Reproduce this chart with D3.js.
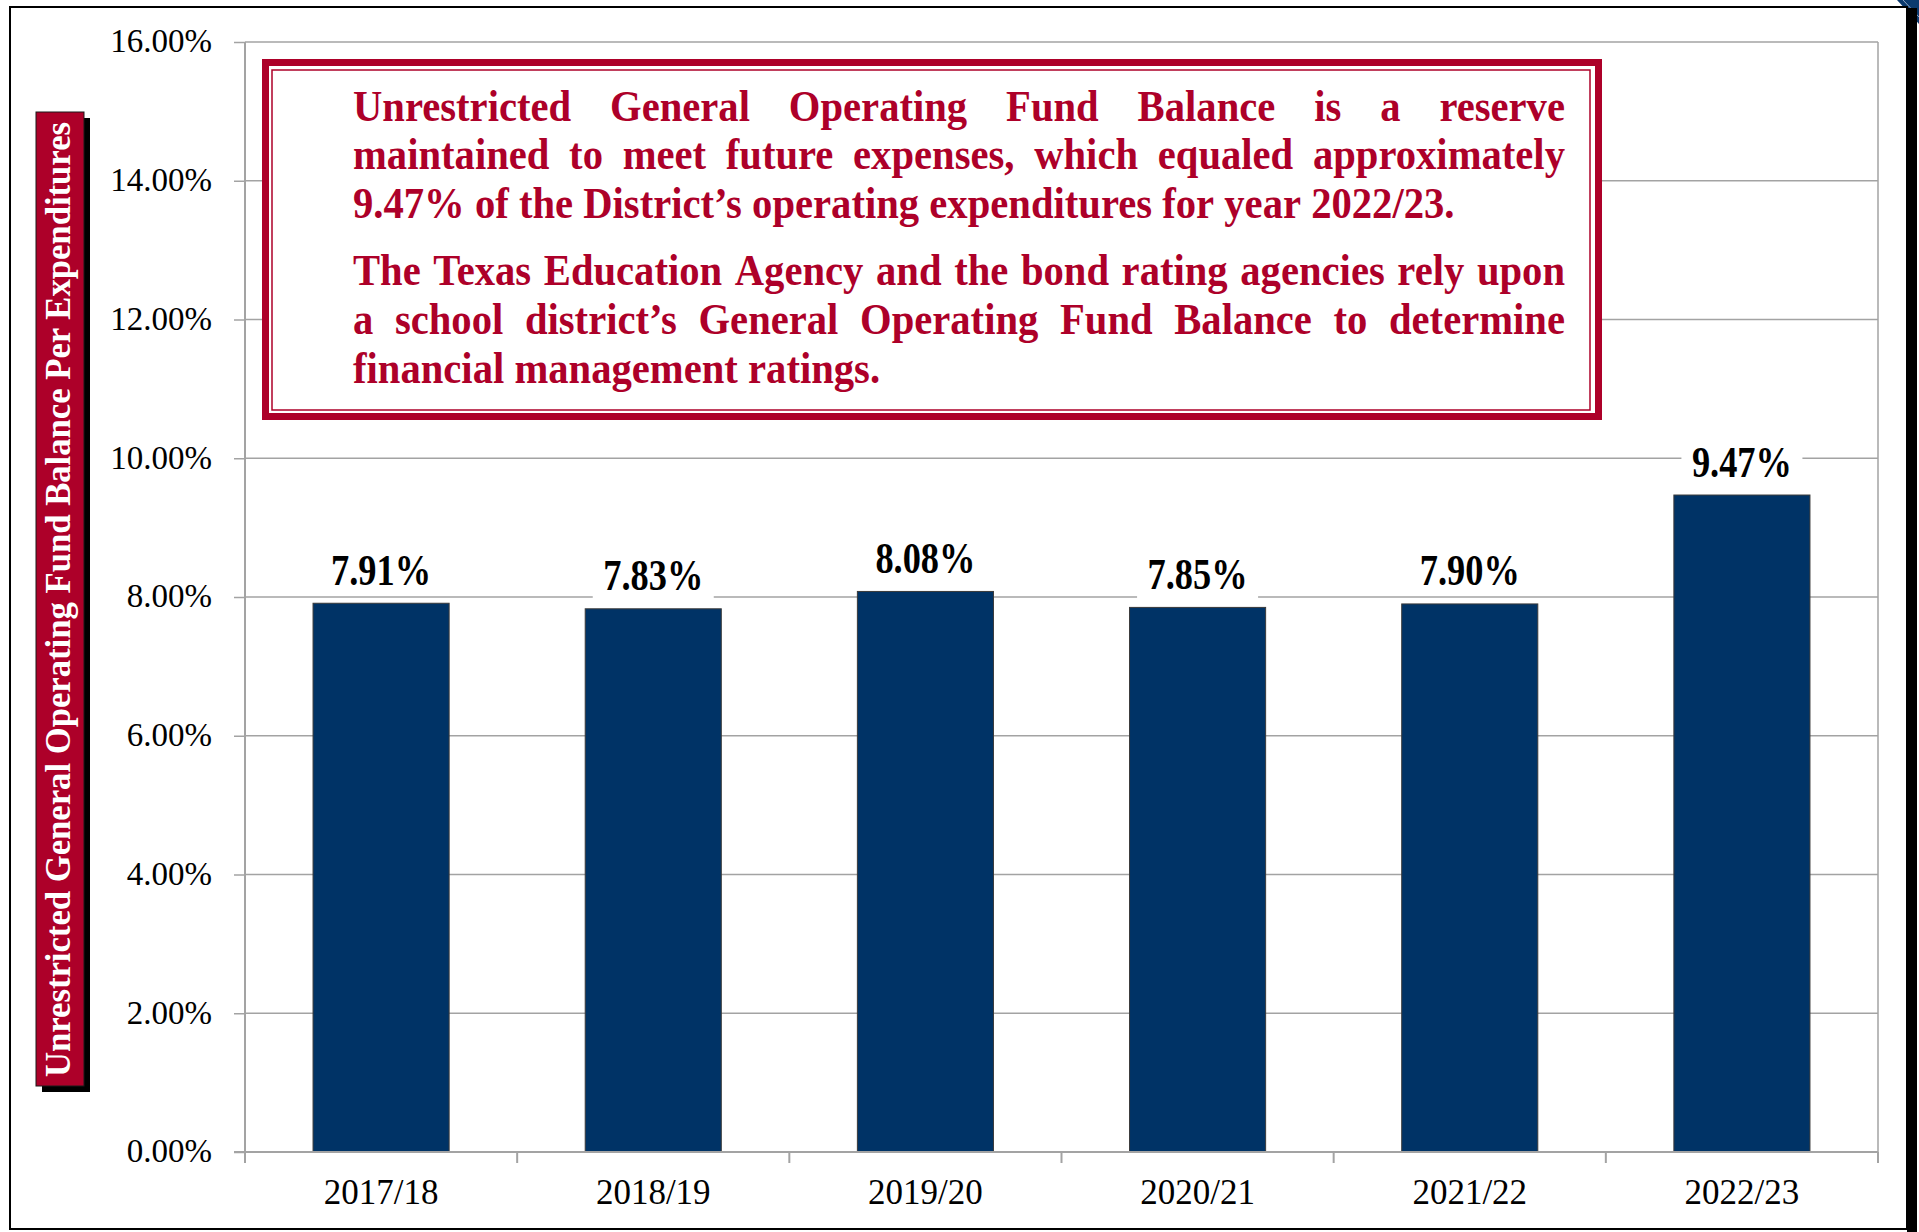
<!DOCTYPE html>
<html>
<head>
<meta charset="utf-8">
<script src="https://cdn.jsdelivr.net/npm/d3@7/dist/d3.min.js"></script>
<style>
  html, body { margin: 0; padding: 0; background: #fff; }
  svg { display: block; }
</style>
</head>
<body>
<svg id="chart" width="1919" height="1232"></svg>
<script>
///////////////////////////////////////////////////////////////////////////
///////////////////////////// Data ////////////////////////////////////////
///////////////////////////////////////////////////////////////////////////

var years = ["2017/18", "2018/19", "2019/20", "2020/21", "2021/22", "2022/23"];
var balancePct = [7.91, 7.83, 8.08, 7.85, 7.90, 9.47];
var yTicks = [0, 2, 4, 6, 8, 10, 12, 14, 16];
var yTitle = "Unrestricted General Operating Fund Balance Per Expenditures";
//each paragraph of the note, line by line (last line of a paragraph is not justified)
var noteParagraphs = [
	["Unrestricted General Operating Fund Balance is a reserve",
	 "maintained to meet future expenses, which equaled approximately",
	 "9.47% of the District\u2019s operating expenditures for year 2022/23."],
	["The Texas Education Agency and the bond rating agencies rely upon",
	 "a school district\u2019s General Operating Fund Balance to determine",
	 "financial management ratings."]
];

///////////////////////////////////////////////////////////////////////////
///////////////////////////// Setup ///////////////////////////////////////
///////////////////////////////////////////////////////////////////////////

var plot = {left: 245, right: 1878, top: 42, bottom: 1152},
	barColor = "#003366",
	red = "#ad0029",
	gridColor = "#a3a3a3",
	serif = "'Liberation Serif', 'Times New Roman', serif";

var svg = d3.select("#chart");

var x = d3.scaleBand()
	.domain(years)
	.range([plot.left, plot.right])
	.paddingInner(0.5)
	.paddingOuter(0.25);

var y = d3.scaleLinear()
	.domain([0, 16])
	.range([plot.bottom, plot.top]);

//measure the width of a string in a given font
function measure(str, size, weight) {
	var t = svg.append("text")
		.style("font-family", serif)
		.style("font-size", size + "px")
		.style("font-weight", weight)
		.text(str);
	var w = t.node().getComputedTextLength();
	t.remove();
	return w;
}

///////////////////////////////////////////////////////////////////////////
///////////////////////////// Frame ///////////////////////////////////////
///////////////////////////////////////////////////////////////////////////

//the little blue corner peeking out on the top right
svg.append("polygon")
	.attr("points", "1897,0 1919,0 1919,24")
	.style("fill", "#0b3a6e");
svg.append("line")
	.attr("x1", 1903).attr("y1", 0).attr("x2", 1919).attr("y2", 17)
	.style("stroke", "#8fa6c4").style("stroke-width", 1);

//thick shadow on the right
svg.append("rect")
	.attr("x", 1907).attr("y", 8)
	.attr("width", 10).attr("height", 1232)
	.style("fill", "#000");

svg.append("rect")
	.attr("x", 10).attr("y", 7)
	.attr("width", 1897).attr("height", 1222)
	.style("fill", "#fff")
	.style("stroke", "#000")
	.style("stroke-width", 2);

///////////////////////////////////////////////////////////////////////////
////////////////////////// Grid and axes //////////////////////////////////
///////////////////////////////////////////////////////////////////////////

svg.append("g")
	.selectAll(".grid")
	.data(yTicks.slice(1))
	.enter().append("line")
	.attr("class", "grid")
	.attr("x1", plot.left).attr("x2", plot.right)
	.attr("y1", function(d) { return y(d); })
	.attr("y2", function(d) { return y(d); })
	.style("stroke", gridColor)
	.style("stroke-width", 1.5);

//right border of the plot area
svg.append("line")
	.attr("x1", plot.right).attr("x2", plot.right)
	.attr("y1", plot.top).attr("y2", plot.bottom)
	.style("stroke", gridColor)
	.style("stroke-width", 1.5);

//y axis
var yAxis = svg.append("g")
	.attr("transform", "translate(" + plot.left + ",0)")
	.call(d3.axisLeft(y)
		.tickValues(yTicks)
		.tickFormat(function(d) { return d.toFixed(2) + "%"; })
		.tickSize(11)
		.tickSizeOuter(0)
		.tickPadding(22));
yAxis.select(".domain").remove();
yAxis.selectAll(".tick line").style("stroke", gridColor).style("stroke-width", 1.5);
yAxis.selectAll(".tick text")
	.style("font-family", serif)
	.style("font-size", "33px")
	.attr("dy", "0.3em")
	.style("fill", "#000");
svg.append("line")
	.attr("x1", plot.left).attr("x2", plot.left)
	.attr("y1", plot.top).attr("y2", plot.bottom + 11)
	.style("stroke", gridColor)
	.style("stroke-width", 2);

///////////////////////////////////////////////////////////////////////////
/////////////////////////////// Bars //////////////////////////////////////
///////////////////////////////////////////////////////////////////////////

svg.append("g")
	.selectAll(".bar")
	.data(balancePct)
	.enter().append("rect")
	.attr("class", "bar")
	.attr("x", function(d, i) { return x(years[i]); })
	.attr("y", function(d) { return y(d); })
	.attr("width", x.bandwidth())
	.attr("height", function(d) { return y(0) - y(d); })
	.style("fill", barColor)
	.style("stroke", "#3a3a3a")
	.style("stroke-width", 1);

//x axis, ticks sit between the categories
var xAxis = svg.append("g")
	.attr("transform", "translate(0," + plot.bottom + ")")
	.call(d3.axisBottom(x).tickSize(0).tickPadding(0));
xAxis.select(".domain").remove();
xAxis.selectAll(".tick text")
	.style("font-family", serif)
	.style("font-size", "35px")
	.style("fill", "#000")
	.attr("y", 52)
	.attr("dy", 0);
svg.append("line")
	.attr("x1", plot.left - 11).attr("x2", plot.right)
	.attr("y1", plot.bottom).attr("y2", plot.bottom)
	.style("stroke", gridColor)
	.style("stroke-width", 2);
svg.append("g")
	.selectAll(".xtick")
	.data(d3.range(years.length + 1))
	.enter().append("line")
	.attr("class", "xtick")
	.attr("x1", function(i) { return plot.left + i * x.step(); })
	.attr("x2", function(i) { return plot.left + i * x.step(); })
	.attr("y1", plot.bottom).attr("y2", plot.bottom + 11)
	.style("stroke", gridColor)
	.style("stroke-width", 2);

///////////////////////////////////////////////////////////////////////////
/////////////////////////// Value labels //////////////////////////////////
///////////////////////////////////////////////////////////////////////////

var labelSize = 44,
	labelScale = 100 / measure("9.47%", labelSize, "bold");

var labels = svg.append("g")
	.selectAll(".valueLabel")
	.data(balancePct)
	.enter().append("g")
	.attr("class", "valueLabel")
	.attr("transform", function(d, i) {
		return "translate(" + (x(years[i]) + x.bandwidth() / 2) + "," + (y(d) - 18.5) + ")";
	});
labels.append("rect")
	.attr("x", -60.5).attr("y", -40)
	.attr("width", 121).attr("height", 50)
	.style("fill", "#fff");
labels.append("text")
	.attr("transform", "scale(" + labelScale + ",1)")
	.style("text-anchor", "middle")
	.style("font-family", serif)
	.style("font-size", labelSize + "px")
	.style("font-weight", "bold")
	.style("fill", "#000")
	.text(function(d) { return d.toFixed(2) + "%"; });

///////////////////////////////////////////////////////////////////////////
///////////////////////////// Y title /////////////////////////////////////
///////////////////////////////////////////////////////////////////////////

svg.append("rect")
	.attr("x", 42).attr("y", 118)
	.attr("width", 48).attr("height", 974)
	.style("fill", "#000");
svg.append("rect")
	.attr("x", 36).attr("y", 112)
	.attr("width", 48).attr("height", 974)
	.style("fill", red)
	.style("stroke", "#1a1a1a")
	.style("stroke-width", 1);
svg.append("text")
	.attr("transform", "translate(70,1077) rotate(-90)")
	.attr("textLength", 955)
	.attr("lengthAdjust", "spacingAndGlyphs")
	.style("font-family", serif)
	.style("font-size", "36px")
	.style("font-weight", "bold")
	.style("fill", "#fff")
	.text(yTitle);

///////////////////////////////////////////////////////////////////////////
///////////////////////////// Note box ////////////////////////////////////
///////////////////////////////////////////////////////////////////////////

svg.append("rect")
	.attr("x", 265.5).attr("y", 62.5)
	.attr("width", 1333).attr("height", 354)
	.style("fill", "#fff")
	.style("stroke", red)
	.style("stroke-width", 7);
svg.append("rect")
	.attr("x", 272).attr("y", 70)
	.attr("width", 1318).attr("height", 340)
	.style("fill", "none")
	.style("stroke", red)
	.style("stroke-width", 1.5);

var noteSize = 44,
	noteLeft = 353,
	noteRight = 1565,
	noteScale = 1100 / measure(noteParagraphs[0][2], noteSize, "bold"),
	spaceW = measure("a b", noteSize, "bold") - measure("ab", noteSize, "bold"),
	noteBaselines = [[121, 169, 218], [285, 334, 383]];

var note = svg.append("g").attr("class", "note");
noteParagraphs.forEach(function(para, p) {
	para.forEach(function(line, l) {
		var words = line.split(" "),
			widths = words.map(function(w) { return measure(w, noteSize, "bold") * noteScale; }),
			total = d3.sum(widths),
			justify = l < para.length - 1,
			gap = justify ? (noteRight - noteLeft - total) / (words.length - 1) : spaceW * noteScale,
			pos = noteLeft;
		words.forEach(function(w, k) {
			note.append("text")
				.attr("transform", "translate(" + pos + "," + noteBaselines[p][l] + ") scale(" + noteScale + ",1)")
				.style("font-family", serif)
				.style("font-size", noteSize + "px")
				.style("font-weight", "bold")
				.style("fill", red)
				.text(w);
			pos += widths[k] + gap;
		});
	});
});
</script>
</body>
</html>
